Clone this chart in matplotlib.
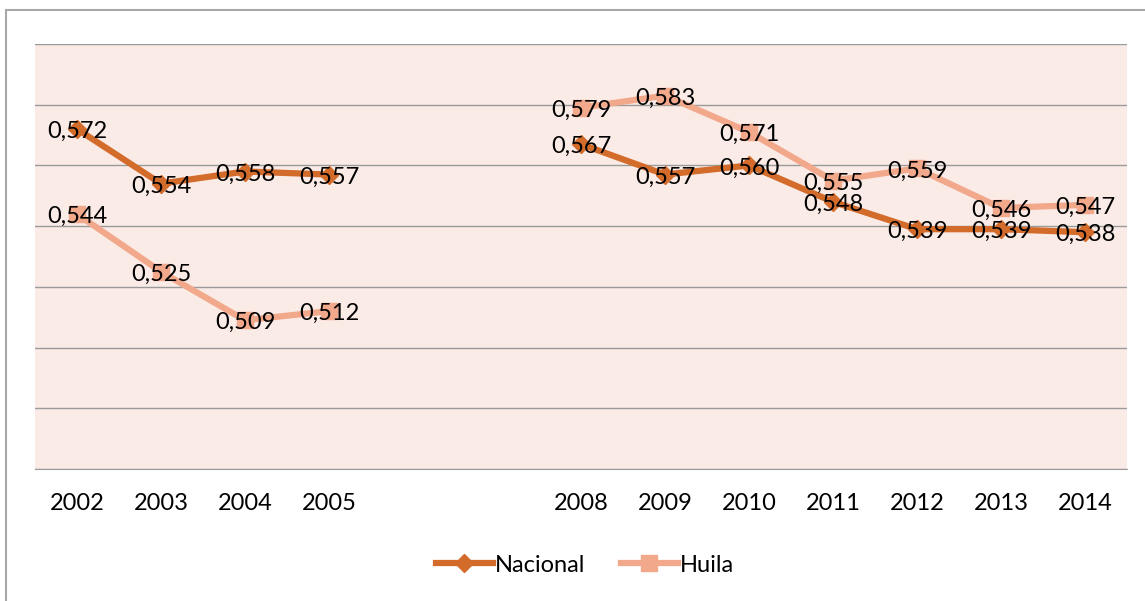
import numpy as np
import matplotlib.pyplot as plt
from matplotlib.patches import Rectangle

years = ["2002", "2003", "2004", "2005", "", "", "2008", "2009", "2010",
         "2011", "2012", "2013", "2014"]
nacional = [0.572, 0.554, 0.558, 0.557, np.nan, np.nan, 0.567, 0.557, 0.560,
            0.548, 0.539, 0.539, 0.538]
huila = [0.544, 0.525, 0.509, 0.512, np.nan, np.nan, 0.579, 0.583, 0.571,
         0.555, 0.559, 0.546, 0.547]

c_nac = "#D36B2B"
c_hui = "#F1A88B"
font = ["Lato", "DejaVu Sans"]

fig = plt.figure(figsize=(11.45, 6.01), dpi=100)
W, H = 1145, 601
ax = fig.add_axes([35 / W, 1 - 469 / H, (1127 - 35) / W, (469 - 44) / H])
ax.set_facecolor("#FBEBE7")

x = np.arange(len(years))
ax.plot(x, huila, color=c_hui, lw=4.5, marker="s", ms=11, label="Huila", zorder=3)
ax.plot(x, nacional, color=c_nac, lw=4.5, marker="D", ms=9, label="Nacional", zorder=4)

# data labels sit centred on the points
for series in (nacional, huila):
    for xi, v in zip(x, series):
        if not np.isnan(v):
            ax.text(xi, v - 0.0008, f"{v:.3f}".replace(".", ","), ha="center",
                    va="center", fontsize=17, family=font, zorder=5)

ax.set_xlim(-0.5, len(years) - 0.5)
ax.set_ylim(0.46, 0.60)
ax.set_yticks(np.arange(0.46, 0.601, 0.02))
ax.yaxis.grid(True, color="#9A9A9A", lw=1)
ax.set_axisbelow(True)
ax.tick_params(axis="y", left=False, labelleft=False)
ax.set_xticks(x)
ax.set_xticklabels(years, fontsize=17, family=font)
ax.tick_params(axis="x", length=0, pad=17)
for s in ["top", "right", "left"]:
    ax.spines[s].set_visible(False)
ax.spines["bottom"].set_color("#9A9A9A")

handles, labels = ax.get_legend_handles_labels()
fig.legend(handles[::-1], labels[::-1], loc="center", ncol=2,
           bbox_to_anchor=(585 / W, 1 - 565 / H), frameon=False,
           prop={"family": font, "size": 17}, handlelength=2.4,
           columnspacing=1.5, handletextpad=0.1)

fig.patches.append(Rectangle((6 / W, -0.1), 1.2, 1 - 10 / H + 0.1,
                             transform=fig.transFigure, fill=False,
                             edgecolor="#A8A8A8", lw=1.5))

fig.savefig("out.png", dpi=100)
